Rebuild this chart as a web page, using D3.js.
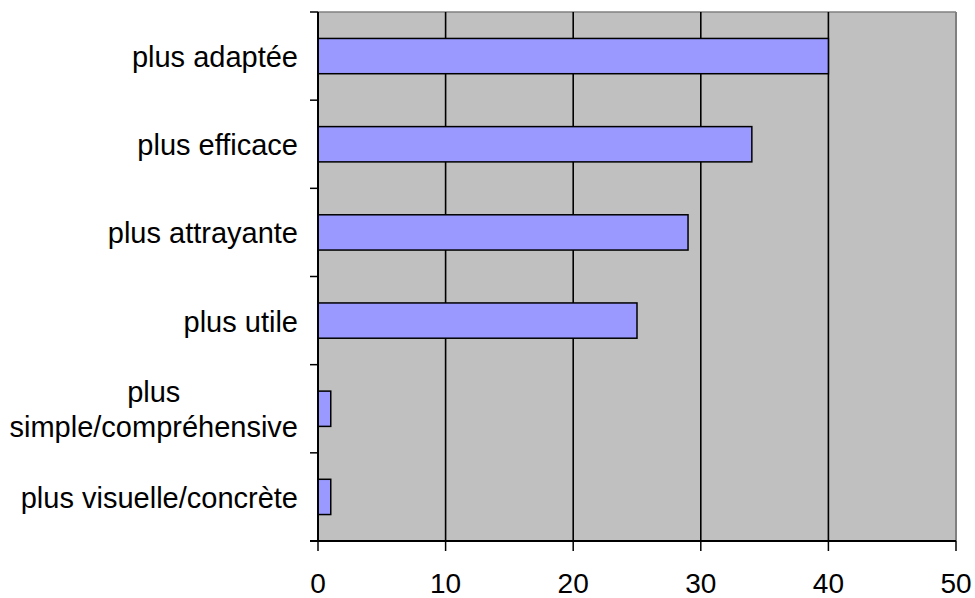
<!DOCTYPE html>
<html><head><meta charset="utf-8">
<script src="https://cdn.jsdelivr.net/npm/d3@7"></script>
<style>body{margin:0;background:#fff}svg{display:block}text{font-family:"Liberation Sans",Arial,sans-serif;fill:#000}</style>
</head><body><svg id="c" width="975" height="598"></svg>
<script>
const categories = [["plus adaptée"],["plus efficace"],["plus attrayante"],["plus utile"],["plus","simple/compréhensive"],["plus visuelle/concrète"]];
const values = [40, 34, 29, 25, 1, 1];
const xTicks = [0, 10, 20, 30, 40, 50];

const svg = d3.select("#c");
const L = 318, R = 956, T = 12, B = 541;
const x = d3.scaleLinear().domain([0, 50]).range([L, R]);
const idx = d3.range(categories.length);
const y = d3.scaleBand().domain(idx).range([T, B]).paddingInner(0.6).paddingOuter(0.3);

svg.append("rect").attr("x", L).attr("y", T).attr("width", R - L).attr("height", B - T).attr("fill", "#C0C0C0");
svg.append("line").attr("x1", L).attr("x2", R).attr("y1", T).attr("y2", T).attr("stroke", "#808080").attr("stroke-width", 1.5);
svg.append("line").attr("x1", R).attr("x2", R).attr("y1", T).attr("y2", B).attr("stroke", "#808080").attr("stroke-width", 2);

svg.selectAll(".grid").data(xTicks.filter(d => d > 0 && d < 50)).enter().append("line")
  .attr("x1", d => x(d)).attr("x2", d => x(d)).attr("y1", T).attr("y2", B)
  .attr("stroke", "#000").attr("stroke-width", 1.6);

svg.selectAll(".bar").data(values).enter().append("rect")
  .attr("x", x(0)).attr("y", (d, i) => y(i)).attr("width", d => x(d) - x(0)).attr("height", y.bandwidth())
  .attr("fill", "#9999FF").attr("stroke", "#000").attr("stroke-width", 1.5);

svg.append("line").attr("x1", L).attr("x2", L).attr("y1", T).attr("y2", B).attr("stroke", "#000").attr("stroke-width", 2);
svg.append("line").attr("x1", L - 8).attr("x2", R).attr("y1", B).attr("y2", B).attr("stroke", "#000").attr("stroke-width", 2);

const step = y.step();
const bounds = d3.range(categories.length + 1).map(i => T + i * step);
svg.selectAll(".yt").data(bounds).enter().append("line")
  .attr("x1", L - 8).attr("x2", L).attr("y1", d => d).attr("y2", d => d).attr("stroke", "#000").attr("stroke-width", 1.5);

svg.selectAll(".xt").data(xTicks).enter().append("line")
  .attr("x1", d => x(d)).attr("x2", d => x(d)).attr("y1", B).attr("y2", B + 10).attr("stroke", "#000").attr("stroke-width", 1.5);
svg.selectAll(".xl").data(xTicks).enter().append("text")
  .attr("x", d => x(d)).attr("y", 593)
  .attr("text-anchor", "middle").attr("font-size", 28).text(d => d);

categories.forEach((lines, i) => {
  const cy = y(i) + y.bandwidth() / 2;
  if (lines.length === 1) {
    svg.append("text").attr("x", 298).attr("y", cy + 11)
      .attr("text-anchor", "end").attr("font-size", 29).text(lines[0]);
  } else {
    const ts = lines.map((s, k) => svg.append("text").attr("font-size", 29).attr("text-anchor", "middle")
      .attr("y", cy + 11 + (k - (lines.length - 1) / 2) * 35).text(s));
    const w = d3.max(ts, t => t.node().getComputedTextLength());
    ts.forEach(t => t.attr("x", 298 - w / 2));
  }
});
</script></body></html>
